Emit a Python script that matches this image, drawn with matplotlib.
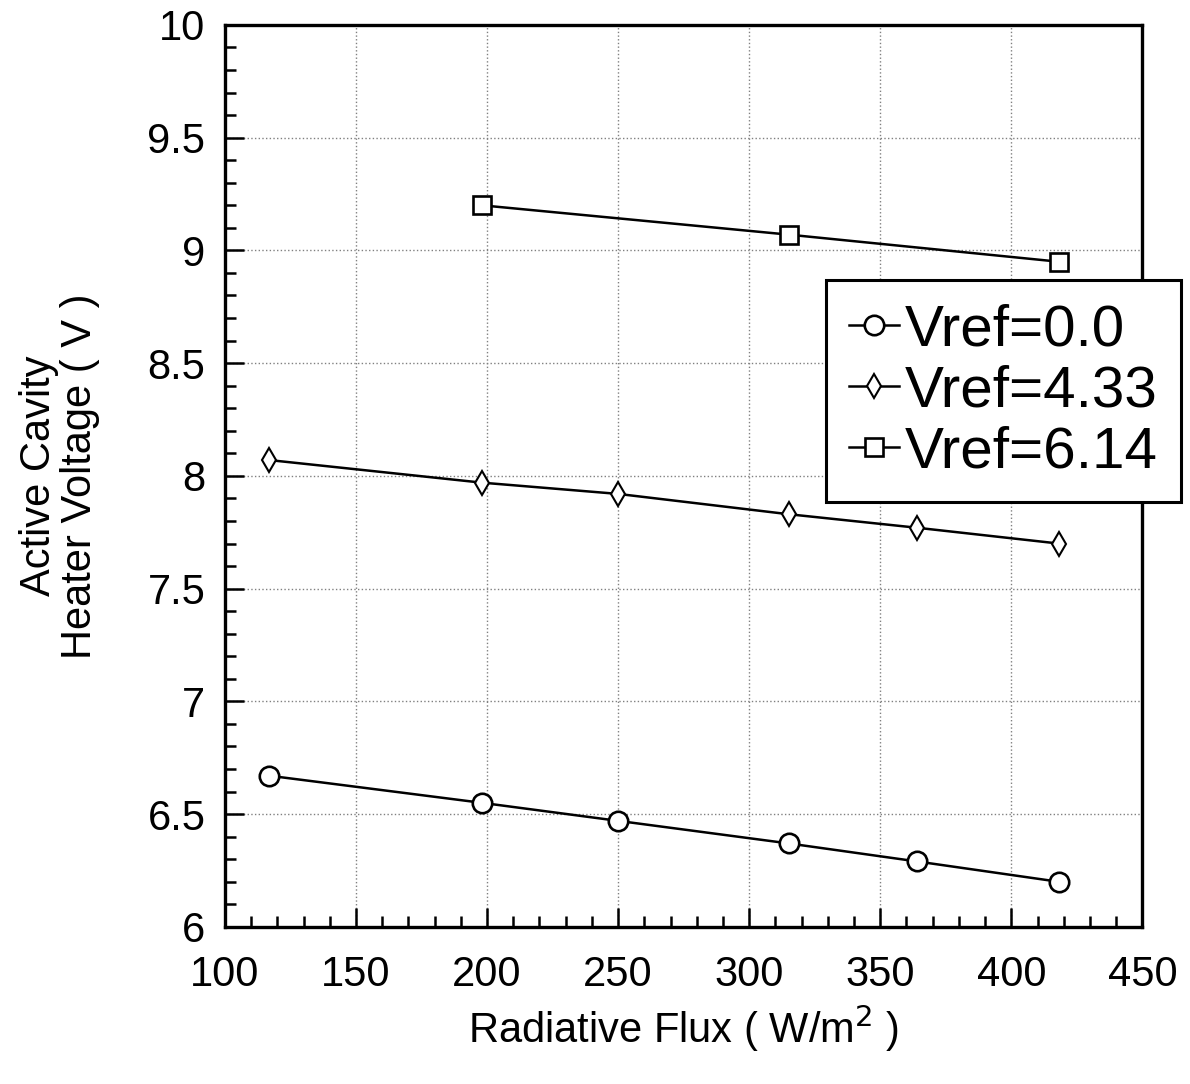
import matplotlib.pyplot as plt
from matplotlib.ticker import MultipleLocator, FormatStrFormatter

plt.rcParams['font.family'] = ['Liberation Sans', 'DejaVu Sans']

# data
flux_v0 = [117, 198, 250, 315, 364, 418]
volt_v0 = [6.67, 6.55, 6.47, 6.37, 6.29, 6.20]

flux_v433 = [117, 198, 250, 315, 364, 418]
volt_v433 = [8.07, 7.97, 7.92, 7.83, 7.77, 7.70]

flux_v614 = [198, 315, 418]
volt_v614 = [9.20, 9.07, 8.95]

labels = ['Vref=0.0', 'Vref=4.33', 'Vref=6.14']

fig = plt.figure(figsize=(11.9, 10.84), dpi=100)
ax = fig.add_axes([0.189, 0.145, 0.771, 0.832])

ax.plot(flux_v0, volt_v0, color='black', lw=1.8, marker='o', ms=14,
        mfc='white', mec='black', mew=1.9, label=labels[0])
ax.plot(flux_v433, volt_v433, color='black', lw=1.8, marker='d', ms=12,
        mfc='white', mec='black', mew=1.5, label=labels[1])
ax.plot(flux_v614, volt_v614, color='black', lw=1.8, marker='s', ms=13,
        mfc='white', mec='black', mew=1.9, label=labels[2])

ax.set_xlim(100, 450)
ax.set_ylim(6, 10)
ax.xaxis.set_major_locator(MultipleLocator(50))
ax.xaxis.set_minor_locator(MultipleLocator(10))
ax.yaxis.set_major_locator(MultipleLocator(0.5))
ax.yaxis.set_minor_locator(MultipleLocator(0.1))
ax.yaxis.set_major_formatter(FormatStrFormatter('%g'))

ax.tick_params(which='major', direction='in', length=14, width=1.8,
               labelsize=30)
ax.tick_params(axis='y', which='major', pad=14)
ax.tick_params(axis='x', which='major', pad=20)
ax.tick_params(which='minor', direction='in', length=8, width=1.8)
for sp in ax.spines.values():
    sp.set_linewidth(2.4)

ax.grid(which='major', linestyle=':', color='gray', lw=1)

ax.set_xlabel('Radiative Flux ( W/m$^2$ )', fontsize=30, labelpad=6)
ax.set_ylabel('Active Cavity\nHeater Voltage ( V )', fontsize=30,
              labelpad=34, linespacing=1.05)

# legend box sits partly outside the axes, like the original
leg = ax.legend(loc='upper left', bbox_to_anchor=(0.694, 0.742),
                bbox_transform=fig.transFigure, fontsize=42, frameon=True,
                fancybox=False, edgecolor='black', framealpha=1,
                handlelength=0.85, handletextpad=0.1, borderpad=0.4,
                labelspacing=0.12, borderaxespad=0)
leg.get_frame().set_linewidth(2.2)

fig.savefig('out.png', dpi=100)
